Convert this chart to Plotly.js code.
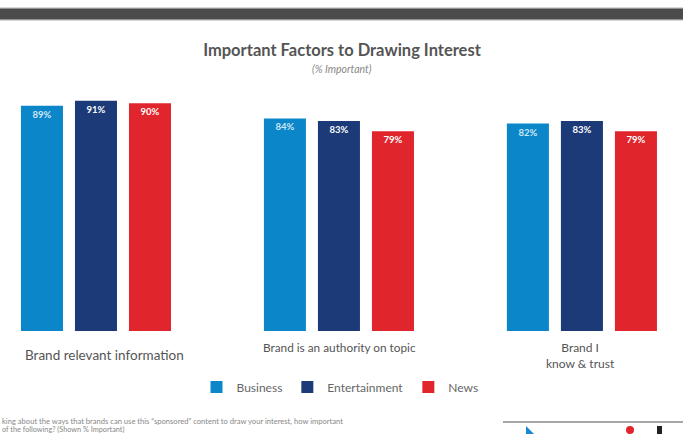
<!DOCTYPE html>
<html>
<head>
<meta charset="utf-8">
<script src="https://cdn.plot.ly/plotly-3.0.1.min.js"></script>
<style>html,body{margin:0;padding:0;background:#fff;}#chart{width:683px;height:434px;}</style>
</head>
<body>
<div id="chart"></div>
<script>
// ---- data ----
const categories = ["Brand relevant information", "Brand is an authority on topic", "Brand I<br>know & trust"];
const seriesNames = ["Business", "Entertainment", "News"];
const business = [89, 84, 82];
const entertainment = [91, 83, 83];
const news = [90, 79, 79];
const titleText = "Important Factors to Drawing Interest";
const subtitleText = "(% Important)";
const footLine1 = "king about the ways that brands can use this \u201csponsored\u201d content to draw your interest, how important";
const footLine2 = "of the following? (Shown % Important)";

// ---- style ----
const colors = ["#0b87c9", "#1c3a78", "#e1252d"];
const textColors = ["#cfe6f6", "#ffffff", "#ffffff"];
const W = 683, H = 434, plotTop = 78, plotBottom = 331;
const py = p => (plotBottom - p) / (plotBottom - plotTop); // pixel -> paper y
const px = p => p / W;                                       // pixel -> paper x

const xIdx = categories.map((_, i) => i);
const seriesVals = [business, entertainment, news];

const traces = seriesVals.map((vals, i) => ({
  type: "bar",
  name: seriesNames[i],
  x: xIdx,
  y: vals,
  text: vals.map(v => v + "%"),
  textposition: "inside",
  insidetextanchor: "end",
  textangle: 0,
  constraintext: "none",
  textfont: { family: "Lato, sans-serif", size: 9.5, color: textColors[i], weight: 700 },
  marker: { color: colors[i], line: { width: 0 } },
  hoverinfo: "skip"
}));

// category label annotations (positions/sizes differ per group in the reference)
const catLabelPos = [
  { dx: 0.037, y: 355, size: 13.5 },
  { dx: 0.004, y: 347, size: 11.8 },
  { dx: -0.005, y: 355.5, size: 12 }
];
const catAnnotations = categories.map((c, i) => ({
  xref: "x", yref: "paper",
  x: i + catLabelPos[i].dx, y: py(catLabelPos[i].y),
  xanchor: "center", yanchor: "middle",
  text: c, showarrow: false,
  font: { family: "Lato, sans-serif", size: catLabelPos[i].size, color: "#555" },
  align: "center"
}));

const annotations = catAnnotations.concat([
  { xref: "paper", yref: "paper", x: px(342), y: py(69), xanchor: "center", yanchor: "middle",
    text: "<i>" + subtitleText + "</i>", showarrow: false,
    font: { family: "Lato, sans-serif", size: 10.5, color: "#888" } },
  { xref: "paper", yref: "paper", x: 0, y: py(421), xanchor: "left", yanchor: "middle",
    text: footLine1, showarrow: false,
    font: { family: "Lato, sans-serif", size: 7.6, color: "#888" } },
  { xref: "paper", yref: "paper", x: 0, y: py(429), xanchor: "left", yanchor: "middle",
    text: footLine2, showarrow: false,
    font: { family: "Lato, sans-serif", size: 7.3, color: "#888" } }
]);

const shapes = [
  // dark band at top
  { type: "rect", xref: "paper", yref: "paper", x0: 0, x1: 1, y0: py(21), y1: py(7),
    fillcolor: "#d8d8d8", line: { width: 0 } },
  { type: "rect", xref: "paper", yref: "paper", x0: 0, x1: 1, y0: py(19.5), y1: py(8.5),
    fillcolor: "#4b4b4b", line: { width: 0 } },
  // logo fragments bottom-right
  { type: "line", xref: "paper", yref: "paper", x0: px(503), x1: 1, y0: py(422), y1: py(422),
    line: { color: "#8a8a8a", width: 1.5 } },
  { type: "path", xref: "paper", yref: "paper",
    path: `M ${px(526)} ${py(426)} L ${px(526)} ${py(434)} L ${px(534)} ${py(434)} Z`,
    fillcolor: "#1a8ad0", line: { width: 0 } },
  { type: "circle", xref: "paper", yref: "paper", x0: px(626), x1: px(634), y0: py(434), y1: py(426),
    fillcolor: "#e1252d", line: { width: 0 } },
  { type: "rect", xref: "paper", yref: "paper", x0: px(657), x1: px(662), y0: py(434), y1: py(426),
    fillcolor: "#222", line: { width: 0 } }
];

const layout = {
  width: W, height: H, autosize: false,
  margin: { l: 0, r: 0, t: plotTop, b: H - plotBottom, pad: 0 },
  paper_bgcolor: "#ffffff", plot_bgcolor: "#ffffff",
  font: { family: "Lato, sans-serif", color: "#555" },
  title: {
    text: "<b>" + titleText + "</b>",
    x: px(342), xanchor: "center", y: 1 - 50 / H, yanchor: "middle",
    font: { family: "Lato, sans-serif", size: 16.5, color: "#555" }
  },
  barmode: "group",
  bargap: 0.333,
  bargroupgap: 0.222,
  xaxis: { range: [-0.395, 2.416], showticklabels: false, showgrid: false, zeroline: false,
           showline: false, ticks: "", fixedrange: true },
  yaxis: { range: [0, 100], visible: false, fixedrange: true },
  showlegend: true,
  legend: {
    orientation: "h", x: px(340), xanchor: "center", y: py(387), yanchor: "middle",
    font: { family: "Lato, sans-serif", size: 12, color: "#666" },
    bgcolor: "rgba(0,0,0,0)", itemwidth: 30, traceorder: "normal"
  },
  annotations: annotations,
  shapes: shapes
};

Plotly.newPlot("chart", traces, layout, { displayModeBar: false, staticPlot: true });
</script>
</body>
</html>
